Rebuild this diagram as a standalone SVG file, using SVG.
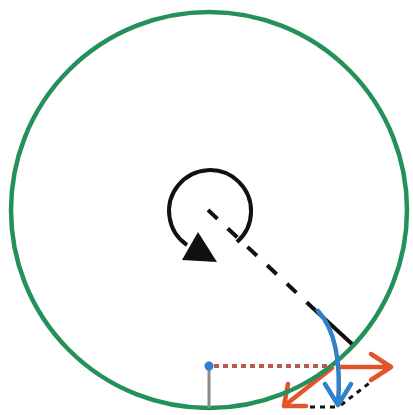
<svg xmlns="http://www.w3.org/2000/svg" width="413" height="415" viewBox="0 0 413 415">
<style>
.red{stroke:#e2542b;stroke-width:4.5;fill:none;stroke-linecap:round;stroke-linejoin:round}
.blue{stroke:#2f82c9;stroke-width:4.5;fill:none;stroke-linecap:round;stroke-linejoin:round}
.blk{stroke:#111;stroke-width:4;fill:none}
.dot{stroke:#111;stroke-width:3;fill:none;stroke-dasharray:5 5}
</style>
<rect width="413" height="415" fill="#fff"/>
<g id="connectors">
  <path class="red" d="M332,368 L284,406 M306,406 L284,406 L288,384"/>
</g>
<g id="wheel">
  <circle cx="209" cy="210" r="198" fill="none" stroke="#24915a" stroke-width="4.5"/>
</g>
<g id="rotation">
  <path class="blk" stroke-width="3.5" d="M237,242 A41,41 0 1 0 187,245"/>
  <polygon points="182,260 217,262 198,232" fill="#111"/>
</g>
<g id="radius">
  <line class="blk" x1="208" y1="210" x2="315" y2="310" stroke-dasharray="13 14"/>
  <line class="blk" x1="315" y1="310" x2="352" y2="344"/>
</g>
<g id="height">
  <line x1="209" y1="366" x2="209" y2="408" stroke="#8a8a8a" stroke-width="3"/>
  <line x1="214" y1="366" x2="332" y2="366" stroke="#b85a4c" stroke-width="4" stroke-dasharray="5 4"/>
  <circle cx="209" cy="366" r="4.5" fill="#2f82c9"/>
</g>
<g id="vectors">
  <path class="red" d="M340,367 L391,367 M371,354 L391,367 L371,380"/>
  <path class="dot" d="M310,407 L338,407 M341,405 L372,381"/>
  <path class="blue" d="M318,311 Q343,338 338,405 M325,384 L338,405 L351,384"/>
</g>
</svg>
